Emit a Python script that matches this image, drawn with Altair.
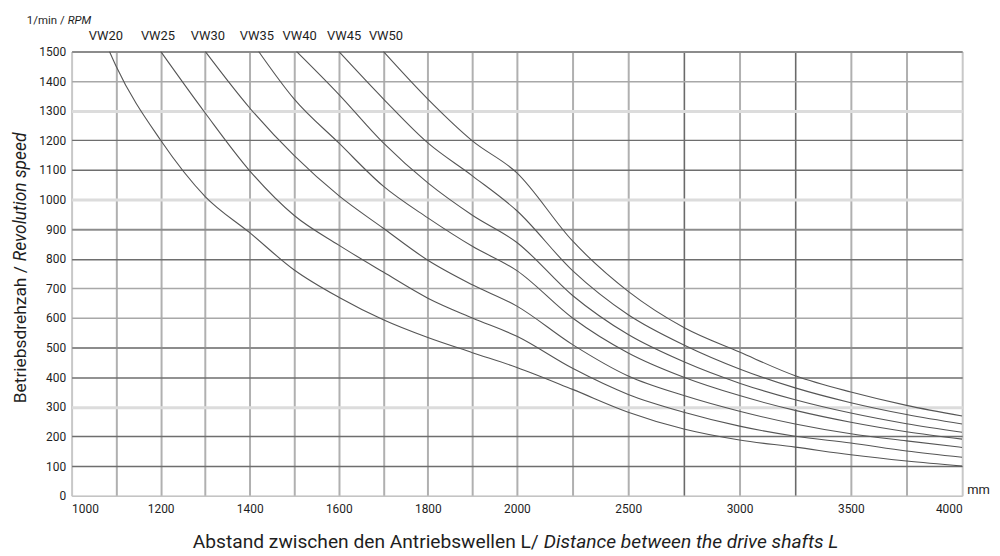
import altair as alt
import pandas as pd

# ---------------- data ----------------
series = ["VW20", "VW25", "VW30", "VW35", "VW40", "VW45", "VW50"]
start_mm = [1085, 1200, 1300, 1420, 1505, 1600, 1700]   # where each curve leaves 1500 rpm
start_rpm = [1500, 1500, 1500, 1500, 1500, 1500, 1500]
label_mm = [1077, 1194, 1306, 1416, 1512, 1612, 1706]   # positions of the VW labels above the plot

dist_mm = [1100, 1200, 1300, 1400, 1500, 1600, 1700, 1800, 1900, 2000,
           2250, 2500, 2750, 3000, 3250, 3500, 3750, 4000]
vw20 = [1450, 1200, 1010, 888, 762, 670, 594, 534, 483, 433, 359, 282, 225, 188, 164, 138, 117, 100]
vw25 = [None, None, 1292, 1097, 946, 846, 755, 667, 600, 538, 430, 342, 282, 235, 201, 178, 151, 130]
vw30 = [None, None, None, 1309, 1148, 1013, 903, 795, 712, 640, 510, 404, 338, 285, 242, 209, 185, 163]
vw35 = [None, None, None, None, 1339, 1191, 1045, 938, 842, 760, 600, 482, 400, 338, 288, 248, 216, 191]
vw40 = [None, None, None, None, None, 1355, 1191, 1056, 947, 855, 676, 544, 452, 380, 324, 279, 243, 214]
vw45 = [None, None, None, None, None, None, 1340, 1191, 1080, 962, 760, 611, 509, 428, 364, 314, 274, 242]
vw50 = [None, None, None, None, None, None, None, 1339, 1198, 1090, 860, 690, 568, 485, 405, 350, 305, 269]

x_grid = [1000, 1100, 1200, 1300, 1400, 1500, 1600, 1700, 1800, 1900, 2000,
          2250, 2500, 2750, 3000, 3250, 3500, 3750, 4000]
x_labels = [1000, 1200, 1400, 1600, 1800, 2000, 2500, 3000, 3500, 4000]
y_grid = list(range(0, 1501, 100))

# ---------------- tables ----------------
rows = []
for name, s_mm, s_rpm, vals in zip(series, start_mm, start_rpm,
                                   [vw20, vw25, vw30, vw35, vw40, vw45, vw50]):
    rows.append({"series": name, "mm": s_mm, "rpm": s_rpm})
    for d, v in zip(dist_mm, vals):
        if v is not None:
            rows.append({"series": name, "mm": d, "rpm": v})
curves = pd.DataFrame(rows)
labels = pd.DataFrame({"series": series, "mm": label_mm})

FONT = "Roboto, Liberation Sans, sans-serif"
INK = "#1e1e1e"

x_label_list = ",".join(str(v) for v in x_labels)
x_grid_color = ("indexof([2750,3250], datum.value) >= 0 ? '#6a6a6a' : "
                "indexof([1000,4000], datum.value) >= 0 ? '#c8c8c8' : '#b0b0b0'")
x_grid_width = "indexof([2750,3250], datum.value) >= 0 ? 1.6 : 2"
y_grid_color = ("indexof([100,200,400,800,1100,1200], datum.value) >= 0 ? '#6e6e6e' : "
                "indexof([500,900,1500], datum.value) >= 0 ? '#8c8c8c' : "
                "indexof([300,1000,1300], datum.value) >= 0 ? '#dcdcdc' : "
                "datum.value == 0 ? '#c4c4c4' : '#a8a8a8'")
y_grid_width = ("indexof([300,1000,1300], datum.value) >= 0 ? 3 : "
                "indexof([500,900,1500], datum.value) >= 0 ? 2 : 1.5")

x_scale = alt.Scale(domain=[1000, 2000, 4000], range=[0, 448, 896], nice=False, zero=False)
y_scale = alt.Scale(domain=[0, 1500], nice=False, zero=False)

x_axis = alt.Axis(values=x_grid, format="d",
                  labelExpr=f"indexof([{x_label_list}], datum.value) >= 0 ? datum.label : ''",
                  ticks=False, domain=False, grid=True,
                  gridColor={"expr": x_grid_color}, gridWidth={"expr": x_grid_width},
                  labelFontSize=12, labelPadding=8, labelColor=INK, labelFont=FONT,
                  title=None)
y_axis = alt.Axis(values=y_grid, format="d", ticks=False, domain=False, grid=True,
                  gridColor={"expr": y_grid_color}, gridWidth={"expr": y_grid_width},
                  labelFontSize=12, labelPadding=6, labelColor=INK, labelFont=FONT,
                  title=None)

lines = alt.Chart(curves).mark_line(
    interpolate="monotone", color="#555555", strokeWidth=1.1, clip=True
).encode(
    x=alt.X("mm:Q", scale=x_scale, axis=x_axis),
    y=alt.Y("rpm:Q", scale=y_scale, axis=y_axis),
    detail="series:N",
)

vw_labels = alt.Chart(labels).mark_text(
    font=FONT, fontSize=13, color=INK, align="center", baseline="alphabetic"
).encode(
    x=alt.X("mm:Q", scale=x_scale),
    y=alt.value(-11),
    text="series:N",
)


def note(text, x, y, italic=False, align="left", size=14, angle=0):
    return alt.Chart(alt.Data(values=[{}])).mark_text(
        text=text, font=FONT, fontSize=size, color=INK, align=align,
        baseline="alphabetic", fontStyle="italic" if italic else "normal", angle=angle
    ).encode(x=alt.value(x), y=alt.value(y))


texts = [
    note("1/min /", -7, -28, size=11.5, align="right"),
    note("RPM", -4, -28, italic=True, size=11.5),
    note("mm", 901, 445, size=13),
    note("Abstand zwischen den Antriebswellen L/", 470, 500, size=19.3, align="right"),
    note("Distance between the drive shafts L", 475, 500, italic=True, size=19.3),
    note("Betriebsdrehzah /", -46, 216, size=17.5, align="right", angle=270),
    note("Revolution speed", -46, 211, italic=True, size=17.5, angle=270),
]

chart = alt.layer(lines, vw_labels, *texts).properties(
    width=896, height=447,
    autosize=alt.AutoSizeParams(type="none"),
    padding={"left": 64, "top": 42, "right": 30, "bottom": 62},
).configure_view(stroke=None).configure(font=FONT, background="white")

chart.save("out.html", embed_options={"renderer": "svg", "actions": False})
